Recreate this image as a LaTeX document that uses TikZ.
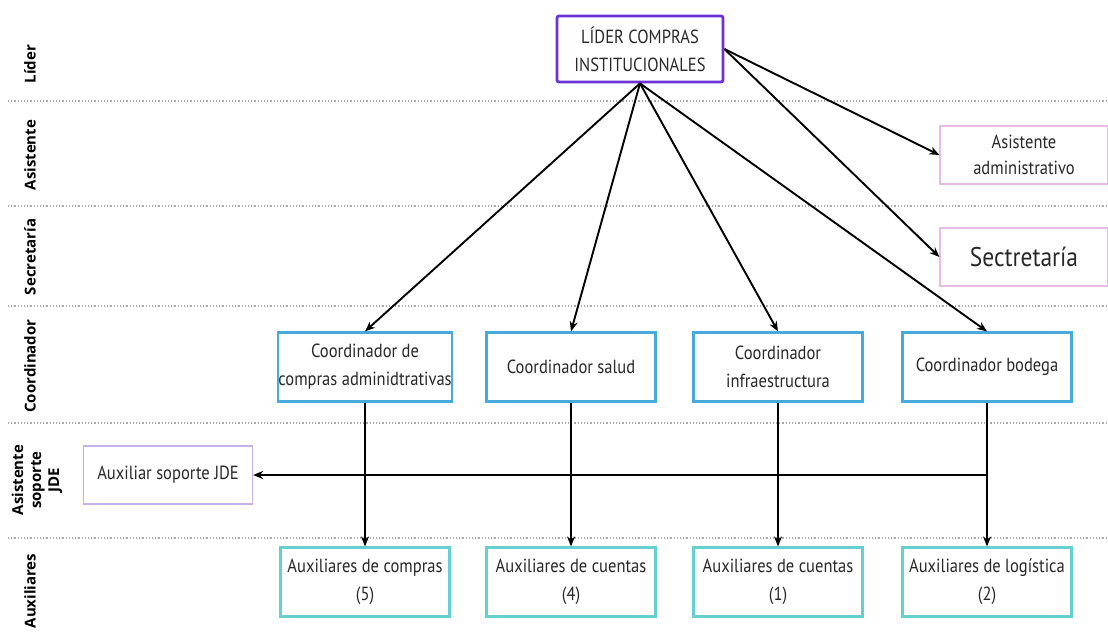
\documentclass[tikz,border=0pt]{standalone}
\usepackage{fontspec}
\setmainfont{PT Sans}[FakeStretch=0.87]
\newfontfamily\lanefont{Open Sans}
\usetikzlibrary{arrows.meta}

\definecolor{textcol}{RGB}{40,40,40}
\definecolor{lanecol}{RGB}{170,170,170}
\definecolor{lidercol}{RGB}{108,52,214}
\definecolor{asiscol}{RGB}{228,188,228}
\definecolor{jdecol}{RGB}{196,178,232}
\definecolor{coordcol}{RGB}{72,170,220}
\definecolor{auxcol}{RGB}{100,208,210}

\begin{document}
\begin{tikzpicture}[x=1pt,y=-1pt]
            \tikzstyle{every node}+=[inner sep=0pt, align=center, text=textcol, font=\fontsize{19}{28}\selectfont]
            \tikzstyle{lane}=[draw=lanecol, dotted, line width=1.2pt]
            \tikzstyle{lanelabel}=[rotate=90, text=black, font=\lanefont\bfseries\fontsize{15}{18}\selectfont]
            \tikzstyle{liderbox}=[draw=lidercol, line width=2.8pt, rounded corners=2pt, minimum width=166pt, minimum height=66pt]
            \tikzstyle{asisbox}=[draw=asiscol, line width=1.2pt, minimum width=168pt, minimum height=58pt]
            \tikzstyle{jdebox}=[draw=jdecol, line width=1.2pt, minimum width=169pt, minimum height=58pt]
            \tikzstyle{coordbox}=[draw=coordcol, line width=2.2pt, minimum width=169pt, minimum height=69pt]
            \tikzstyle{auxbox}=[draw=auxcol, line width=2.2pt, minimum width=169pt, minimum height=69pt]
            \tikzstyle{link}=[-{Stealth[length=10pt,width=8pt]}, line width=1.9pt, black]
            \fill [white] (0,0) rectangle (1108,633);
            \useasboundingbox (0,0) rectangle (1108,633);
            % lanes
            \draw [lane] (8,101) -- (1108,101);
            \draw [lane] (8,206) -- (1108,206);
            \draw [lane] (8,306) -- (1108,306);
            \draw [lane] (8,423) -- (1108,423);
            \draw [lane] (8,538) -- (1108,538);
            \node [lanelabel] (llider) at (30,64) {Líder};
            \node [lanelabel] (lasist) at (30,155) {Asistente};
            \node [lanelabel] (lsecre) at (30,257) {Secretaría};
            \node [lanelabel] (lcoord) at (30,366) {Coordinador};
            \node [lanelabel] (ljde) at (37,480) {Asistente\\soporte\\JDE};
            \node [lanelabel] (laux) at (30,591) {Auxiliares};
            % boxes
            \node [liderbox] (lider) at (640,49) {LÍDER COMPRAS\\INSTITUCIONALES};
            \node [asisbox, font=\fontsize{19}{26}\selectfont] (asist) at (1024,155) {Asistente\\administrativo};
            \node [asisbox, font=\fontsize{27}{30}\selectfont] (secre) at (1024,257) {Sectretaría};
            \node [coordbox] (ccompras) at (365,367) {Coordinador de\\compras adminidtrativas};
            \node [coordbox] (csalud) at (571,367) {Coordinador salud};
            \node [coordbox] (cinfra) at (778,367) {Coordinador\\infraestructura};
            \node [coordbox] (cbodega) at (987,367) {Coordinador bodega};
            \node [jdebox] (jde) at (168,475) {Auxiliar soporte JDE};
            \node [auxbox] (acompras) at (365,582) {Auxiliares de compras\\(5)};
            \node [auxbox] (asalud) at (571,582) {Auxiliares de cuentas\\(4)};
            \node [auxbox] (ainfra) at (778,582) {Auxiliares de cuentas\\(1)};
            \node [auxbox] (abodega) at (987,582) {Auxiliares de logística\\(2)};
            % links
            \draw [link] (lider.south) -- (ccompras.north);
            \draw [link] (lider.south) -- (csalud.north);
            \draw [link] (lider.south) -- (cinfra.north);
            \draw [link] (lider.south) -- (cbodega.north);
            \draw [link] (lider.east) -- (asist.west);
            \draw [link] (lider.east) -- (secre.west);
            \draw [link] (ccompras) -- (acompras);
            \draw [link] (csalud) -- (asalud);
            \draw [link] (cinfra) -- (ainfra);
            \draw [link] (cbodega) -- (abodega);
            \coordinate (jdejoin) at (cbodega.south |- jde.east);
            \draw [link] (jdejoin) -- (jde.east);
        \end{tikzpicture}
\end{document}
